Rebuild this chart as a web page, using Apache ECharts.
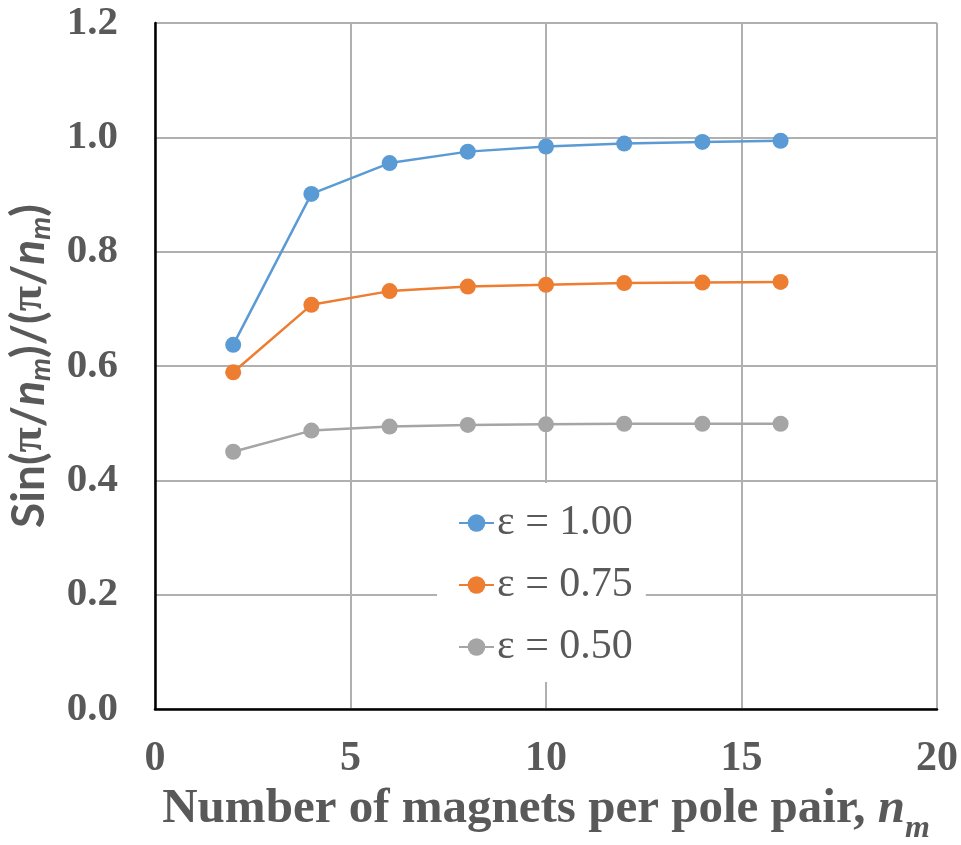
<!DOCTYPE html>
<html>
<head>
<meta charset="utf-8">
<script src="https://cdn.jsdelivr.net/npm/echarts@6/dist/echarts.min.js"></script>
<style>html,body{margin:0;padding:0;background:#fff}#c{width:961px;height:845px}</style>
</head>
<body>
<div id="c"></div>
<script>
const nm = [2, 4, 6, 8, 10, 12, 14, 16];
const eps100 = [0.637, 0.901, 0.955, 0.975, 0.984, 0.989, 0.992, 0.994];
const eps075 = [0.589, 0.707, 0.731, 0.739, 0.742, 0.745, 0.746, 0.747];
const eps050 = [0.450, 0.487, 0.494, 0.497, 0.498, 0.499, 0.499, 0.499];
const seriesNames = ['ε = 1.00', 'ε = 0.75', 'ε = 0.50'];
const colors = ['#5B9BD5', '#ED7D31', '#A5A5A5'];
const xTicks = [0, 5, 10, 15, 20];
const yTicks = [0, 0.2, 0.4, 0.6, 0.8, 1.0, 1.2];

const chart = echarts.init(document.getElementById('c'), null, {renderer: 'canvas'});
const mk = (name, vals, color) => ({
  name: name,
  type: 'line',
  data: nm.map((x, i) => [x, vals[i]]),
  symbol: 'circle',
  symbolSize: 16,
  lineStyle: {color: color, width: 2.5},
  itemStyle: {color: color},
  emphasis: {disabled: true},
  animation: false
});
const serif = '"Liberation Serif", "Times New Roman", serif';
const grey = '#595959';
chart.setOption({
  animation: false,
  backgroundColor: '#fff',
  grid: {left: 155, right: 24, top: 23, bottom: 136, containLabel: false, outerBoundsMode: 'none'},
  legend: {
    orient: 'vertical',
    left: 437, top: 483,
    padding: [19, 13, 14, 21],
    backgroundColor: '#fff',
    itemWidth: 35, itemHeight: 22, itemGap: 20,
    data: seriesNames,
    textStyle: {fontFamily: serif, fontSize: 42, color: grey, lineHeight: 40, padding: [0,0,0,-2]}
  },
  xAxis: {
    type: 'value', min: xTicks[0], max: xTicks[xTicks.length - 1], interval: xTicks[1] - xTicks[0],
    axisLine: {show: true, onZero: false, lineStyle: {color: '#000', width: 2.5}},
    axisTick: {show: false},
    splitLine: {show: true, lineStyle: {color: '#B0B0B0', width: 2}},
    axisLabel: {fontFamily: serif, fontWeight: 'bold', fontSize: 42, color: grey, margin: 29},
    name: '{a|Number of magnets per pole pair, }{i|n}{s|m}',
    nameLocation: 'middle', nameGap: 64,
    nameTextStyle: {
      rich: {
        a: {fontFamily: serif, fontWeight: 'bold', fontSize: 49, color: grey},
        i: {fontFamily: serif, fontWeight: 'bold', fontStyle: 'italic', fontSize: 49, color: grey},
        s: {fontFamily: serif, fontWeight: 'bold', fontStyle: 'italic', fontSize: 32, color: grey, padding: [38, 0, 0, 0]}
      }
    }
  },
  yAxis: {
    type: 'value', min: yTicks[0], max: yTicks[yTicks.length - 1], interval: 0.2,
    axisLine: {show: true, onZero: false, lineStyle: {color: '#000', width: 2.5}},
    axisTick: {show: false},
    splitLine: {show: true, lineStyle: {color: '#B0B0B0', width: 2}},
    axisLabel: {fontFamily: serif, fontWeight: 'bold', fontSize: 41, color: grey, margin: 37,
      formatter: v => v.toFixed(1)},
    name: '{a|Sin(}{p|π}{a|/}{i|n}{s|m}{a|)/(}{p|π}{a|/}{i|n}{s|m}{a|)}',
    nameLocation: 'middle', nameGap: 100, nameRotate: 90,
    nameTextStyle: {
      rich: {
        a: {fontFamily: 'Lato, "Open Sans", sans-serif', fontWeight: 'bold', fontSize: 46, color: grey},
        p: {fontFamily: serif, fontWeight: 'bold', fontSize: 46, color: grey},
        i: {fontFamily: 'Lato, "Open Sans", sans-serif', fontWeight: 'bold', fontStyle: 'italic', fontSize: 46, color: grey},
        s: {fontFamily: 'Lato, "Open Sans", sans-serif', fontWeight: 'bold', fontStyle: 'italic', fontSize: 29, color: grey, padding: [22, 0, 0, 0]}
      }
    }
  },
  series: [mk(seriesNames[0], eps100, colors[0]), mk(seriesNames[1], eps075, colors[1]), mk(seriesNames[2], eps050, colors[2])]
});
</script>
</body>
</html>
